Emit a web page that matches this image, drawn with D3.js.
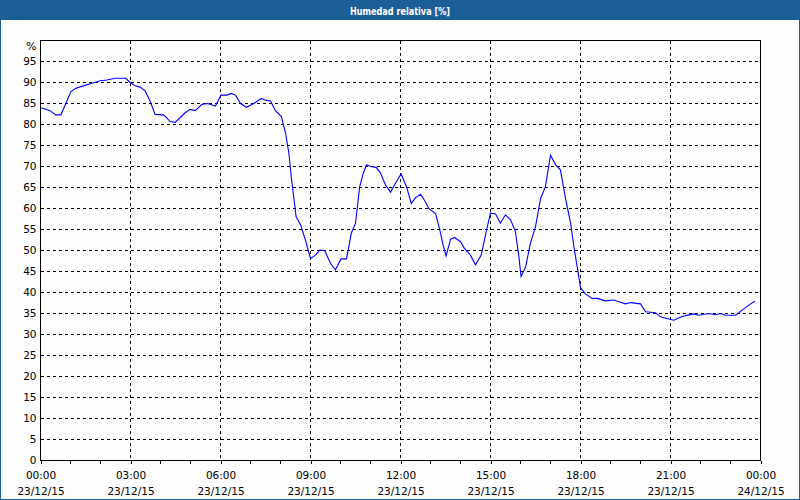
<!DOCTYPE html>
<html><head><meta charset="utf-8">
<script src="https://cdn.jsdelivr.net/npm/d3@7"></script>
<style>body{margin:0;background:#fff}svg{display:block}</style>
</head><body><svg id="c" width="800" height="500"></svg>
<script>
const chartTitle = "Humedad relativa [%]";
const unitLabel = "%";
const hours = [0.02,0.32,0.51,0.68,0.82,1.01,1.16,1.43,1.71,1.99,2.21,2.49,2.84,2.99,3.16,3.32,3.49,3.66,3.82,4.10,4.21,4.32,4.49,4.82,4.99,5.16,5.38,5.56,5.83,6.02,6.22,6.36,6.50,6.67,6.86,7.11,7.36,7.50,7.67,7.83,8.03,8.17,8.28,8.37,8.44,8.52,8.67,8.83,9.00,9.17,9.31,9.47,9.67,9.83,10.02,10.20,10.36,10.50,10.64,10.76,10.87,11.00,11.19,11.33,11.50,11.67,11.83,12.02,12.20,12.36,12.50,12.67,12.83,12.94,13.17,13.31,13.42,13.52,13.67,13.80,14.00,14.13,14.33,14.50,14.69,14.87,15.00,15.17,15.33,15.50,15.67,15.83,15.94,16.02,16.17,16.33,16.50,16.67,16.83,17.00,17.17,17.33,17.50,17.67,17.78,17.89,18.00,18.17,18.39,18.56,18.83,19.11,19.33,19.50,19.67,20.00,20.17,20.50,20.67,20.94,21.11,21.28,21.50,21.78,21.94,22.28,22.50,22.67,22.83,23.17,23.39,23.61,23.81];
const humidity = [84.0,83.3,82.3,82.3,84.6,87.8,88.6,89.2,89.8,90.4,90.6,91.0,91.0,90.0,89.2,88.9,88.0,85.4,82.4,82.3,81.6,80.7,80.5,82.8,83.6,83.3,84.8,85.0,84.4,87.0,87.0,87.4,87.0,85.0,84.1,85.0,86.2,85.8,85.6,83.3,81.9,77.9,73.1,66.8,62.8,58.1,56.1,52.5,48.1,48.9,50.1,50.0,46.9,45.4,48.0,48.0,54.1,56.5,65.2,68.4,70.4,70.0,69.8,68.5,65.6,63.9,66.0,68.2,65.2,61.2,62.6,63.4,61.6,60.0,58.8,54.9,51.3,48.7,52.7,53.1,52.1,50.5,48.9,46.6,48.9,54.9,58.9,58.7,56.5,58.5,57.3,54.5,48.9,43.8,46.1,51.7,55.7,62.4,65.2,72.7,70.4,69.2,62.4,56.5,50.9,46.1,41.2,39.6,38.6,38.6,38.0,38.2,37.7,37.3,37.6,37.3,35.4,35.2,34.2,33.7,33.4,34.0,34.5,34.9,34.6,35.0,34.7,35.0,34.6,34.6,35.8,37.0,37.9];
const yTickValues = [0,5,10,15,20,25,30,35,40,45,50,55,60,65,70,75,80,85,90,95];
const majorTickHours = [0,3,6,9,12,15,18,21,24];
const minorTickHours = [1,2,4,5,7,8,10,11,13,14,16,17,19,20,22,23];
const startDate = new Date(2015, 11, 23, 0, 0, 0);

const svg = d3.select("#c");
const W = 800, H = 500;
const L = 40.5, R = 760.5, T = 40.5, B = 460.5;
const HOUR = 3600000;
const toDate = h => new Date(startDate.getTime() + h * HOUR);

const x = d3.scaleTime().domain([startDate, toDate(24)]).range([L, R]);
const y = d3.scaleLinear().domain([0, 100]).range([B, T]);

// background + frame
svg.append("rect").attr("x",0).attr("y",0).attr("width",W).attr("height",H).attr("fill","#fdfdfd");
svg.append("rect").attr("x",0.5).attr("y",0.5).attr("width",W-1).attr("height",H-1)
  .attr("fill","none").attr("stroke","#1c5e97").attr("stroke-width",1);
svg.append("rect").attr("x",0).attr("y",0).attr("width",W).attr("height",20).attr("fill","#1c5e97");
svg.append("text").attr("x",W/2).attr("y",14.5).attr("text-anchor","middle")
  .attr("font-family","'DejaVu Sans', Verdana, sans-serif").attr("font-weight","bold")
  .attr("font-size","11px").attr("fill","#fff")
  .attr("textLength",100).attr("lengthAdjust","spacingAndGlyphs").text(chartTitle);

const font = "'DejaVu Sans', Verdana, sans-serif";

// grid
const g = svg.append("g").attr("shape-rendering","crispEdges");
g.selectAll(".hg").data(yTickValues.filter(v => v > 0)).join("line")
  .attr("x1", L).attr("x2", R).attr("y1", d => y(d)).attr("y2", d => y(d))
  .attr("stroke","#000").attr("stroke-dasharray","3,3");
g.selectAll(".vg").data(majorTickHours.filter(h => h > 0 && h < 24)).join("line")
  .attr("x1", d => x(toDate(d))).attr("x2", d => x(toDate(d))).attr("y1", T).attr("y2", B)
  .attr("stroke","#000").attr("stroke-dasharray","3,3");

// data line
const line = d3.line().x((d,i) => x(toDate(hours[i]))).y(d => y(d));
svg.append("path").datum(humidity).attr("d", line)
  .attr("fill","none").attr("stroke","#0000ff").attr("stroke-width",1.1);

// frame of plot
g.append("rect").attr("x",L).attr("y",T).attr("width",R-L).attr("height",B-T)
  .attr("fill","none").attr("stroke","#000");

// x axis ticks
const xAxis = d3.axisBottom(x)
  .tickValues(majorTickHours.map(toDate)).tickSize(3).tickFormat(d3.timeFormat("%H:%M"));
const ax = svg.append("g").attr("transform",`translate(0,${B})`).call(xAxis);
ax.select(".domain").remove();
ax.selectAll("line").attr("stroke","#000").attr("shape-rendering","crispEdges");
ax.selectAll("text").attr("font-family",font).attr("font-size","10.5px").attr("fill","#000")
  .attr("y",11).attr("dy","0.71em");
ax.selectAll(".tick").append("text").attr("y",27).attr("dy","0.71em")
  .attr("fill","#000").attr("font-family",font).attr("font-size","10.5px").attr("text-anchor","middle")
  .text(d => d3.timeFormat("%d/%m/%y")(d));
ax.selectAll(".minor").data(minorTickHours).join("line").attr("class","minor")
  .attr("x1", d => x(toDate(d))).attr("x2", d => x(toDate(d))).attr("y1",0).attr("y2",3)
  .attr("stroke","#000").attr("shape-rendering","crispEdges");

// y axis labels
const yAxis = d3.axisLeft(y).tickValues(yTickValues).tickSize(0).tickPadding(4);
const ay = svg.append("g").attr("transform",`translate(${L},0)`).call(yAxis);
ay.select(".domain").remove();
ay.selectAll("text").attr("font-family",font).attr("font-size","10.5px").attr("fill","#000");
svg.append("text").attr("x",L-4).attr("y",y(100)+5.5).attr("dy","0.32em").attr("text-anchor","end")
  .attr("font-family",font).attr("font-size","11px").attr("fill","#000").text(unitLabel);
</script></body></html>
